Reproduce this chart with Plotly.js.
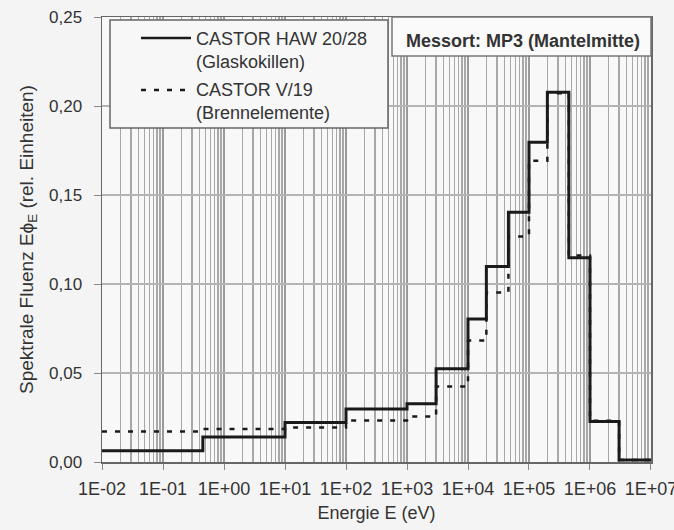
<!DOCTYPE html>
<html>
<head>
<meta charset="utf-8">
<script src="https://cdn.plot.ly/plotly-3.0.1.min.js"></script>
<style>html,body{margin:0;padding:0;background:#f4f4f4;}#chart{width:674px;height:530px;}</style>
</head>
<body>
<div id="chart"></div>
<script>
// Energy group boundaries (eV) shared by both spectra
const binEdges = [0.01, 0.45, 10, 100, 1000, 3000, 1e4, 2e4, 4.6e4, 1e5, 2e5, 4.5e5, 1e6, 3e6, 1e7];
// Spectral fluence per group (rel. units)
const hawValues = [0.0063, 0.0140, 0.0222, 0.0298, 0.0327, 0.0524, 0.0803, 0.1098, 0.1403, 0.1796, 0.2077, 0.1148, 0.0228, 0.0011];
const v19Values = [0.0172, 0.0186, 0.0194, 0.0233, 0.0255, 0.0424, 0.0682, 0.0952, 0.1267, 0.1693, 0.2072, 0.1160, 0.0232, 0.0011];
const seriesNames = ["CASTOR HAW 20/28", "CASTOR V/19"];
const seriesSub = ["(Glaskokillen)", "(Brennelemente)"];
const xTickVals = [1e-2, 1e-1, 1e0, 1e1, 1e2, 1e3, 1e4, 1e5, 1e6, 1e7];
const xTickText = ["1E-02", "1E-01", "1E+00", "1E+01", "1E+02", "1E+03", "1E+04", "1E+05", "1E+06", "1E+07"];
const yTickVals = [0, 0.05, 0.10, 0.15, 0.20, 0.25];

function stepY(vals) { return vals.concat([vals[vals.length - 1]]); }

const FONT = "Liberation Sans, Arial, sans-serif";
const TXT = "#333";

const traces = [
  {
    x: binEdges, y: stepY(hawValues), name: seriesNames[0], type: "scatter", mode: "lines",
    line: {shape: "hv", color: "#1a1a1a", width: 3}, showlegend: false
  },
  {
    x: binEdges, y: stepY(v19Values), name: seriesNames[1], type: "scatter", mode: "lines",
    line: {shape: "hv", color: "#1a1a1a", width: 2.5, dash: "5px,8px"}, showlegend: false
  }
];

// pixel helpers for the decorative legend (plot area: x 102..651, y 17..462)
const L = 102, R = 651, T = 17, B = 462;
const px = x => (x - L) / (R - L);
const py = y => (B - y) / (B - T);

const layout = {
  width: 674, height: 530,
  margin: {l: L, r: 674 - R, t: T, b: 530 - B},
  paper_bgcolor: "#f4f4f4",
  plot_bgcolor: "#f8f8f8",
  separators: ",.",
  font: {family: FONT, color: TXT, size: 18},
  xaxis: {
    type: "log", range: [-2.0002, 7.0002],
    tickvals: xTickVals, ticktext: xTickText, ticklabeloverflow: "allow",
    ticks: "outside", ticklen: 6, tickcolor: "#888", ticklabelstandoff: 4,
    showline: true, mirror: true, linecolor: "#666", linewidth: 1.5,
    showgrid: true, gridcolor: "#9a9a9a", gridwidth: 1.5,
    minor: {dtick: "D1", showgrid: true, gridcolor: "#a8a8a8", gridwidth: 1.5, ticks: ""},
    tickfont: {size: 18, color: TXT},
    title: {text: "Energie E (eV)", font: {size: 18, color: TXT}, standoff: 8},
    zeroline: false
  },
  yaxis: {
    range: [0, 0.25], tickvals: yTickVals, tickformat: ".2f",
    ticks: "outside", ticklen: 7, tickcolor: "#888", ticklabelstandoff: 8,
    showline: true, mirror: true, linecolor: "#666", linewidth: 1.5,
    showgrid: true, gridcolor: "#b4b4b4", gridwidth: 1.5,
    tickfont: {size: 17, color: TXT},
    title: {text: "Spektrale Fluenz Eϕ<sub>E</sub> (rel. Einheiten)", font: {size: 19, color: TXT}, standoff: 10},
    zeroline: false
  },
  shapes: [
    {type: "rect", xref: "paper", yref: "paper", x0: px(110), x1: px(388), y0: py(128), y1: py(20),
     fillcolor: "#f7f7f7", line: {color: "#666", width: 1.5}},
    {type: "line", xref: "paper", yref: "paper", x0: px(141), x1: px(191), y0: py(38), y1: py(38),
     line: {color: "#1a1a1a", width: 2.5}},
    {type: "line", xref: "paper", yref: "paper", x0: px(141), x1: px(191), y0: py(90), y1: py(90),
     line: {color: "#1a1a1a", width: 2.5, dash: "5px,8px"}},
    {type: "rect", xref: "paper", yref: "paper", x0: px(392), x1: 1, y0: py(56), y1: 1,
     fillcolor: "#fafafa", line: {color: "#777", width: 1.5}}
  ],
  annotations: [
    {xref: "paper", yref: "paper", x: px(194), y: py(50), xanchor: "left", yanchor: "middle", align: "left",
     showarrow: false, text: seriesNames[0] + "<br>" + seriesSub[0], font: {size: 18, color: TXT}},
    {xref: "paper", yref: "paper", x: px(194), y: py(101), xanchor: "left", yanchor: "middle", align: "left",
     showarrow: false, text: seriesNames[1] + "<br>" + seriesSub[1], font: {size: 18, color: TXT}},
    {xref: "paper", yref: "paper", x: px(523), y: py(41), xanchor: "center", yanchor: "middle",
     showarrow: false, text: "<b>Messort: MP3 (Mantelmitte)</b>", font: {size: 18, color: TXT}}
  ]
};

Plotly.newPlot("chart", traces, layout, {displayModeBar: false, staticPlot: true});
</script>
</body>
</html>
